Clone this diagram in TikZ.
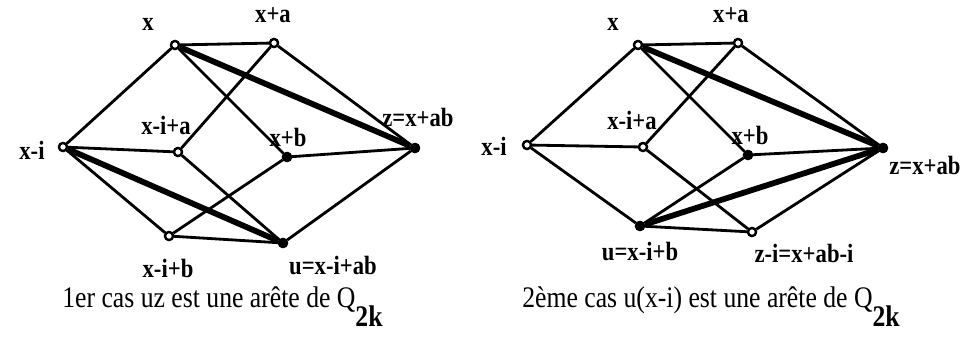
\documentclass[tikz,border=0pt]{standalone}
\usepackage{fontspec}
\setmainfont{Liberation Serif}
\newfontfamily\narrowserif[FakeStretch=0.86]{Liberation Serif}
\usetikzlibrary{positioning}

\begin{document}
\begin{tikzpicture}[
    x=0.02cm, y=-0.02cm,
    vtx/.style={circle, draw=black, line width=1.3pt, fill=white, minimum size=0.16cm, inner sep=0pt},
    vfull/.style={vtx, fill=black},
    lbl/.style={inner sep=0pt, font=\narrowserif\fontsize{15}{17}\selectfont\bfseries},
    captxt/.style={inner sep=0pt, anchor=base west, font=\narrowserif\fontsize{17}{19}\selectfont},
    link/.style={line width=1.6pt, black},
    heavy/.style={line width=3.3pt, black}
]
\useasboundingbox (0,0) rectangle (970,359);
% premier cas
\node[vtx] (ax) at (175,45) {};
\node[vtx] (axa) at (274,43) {};
\node[vtx] (axi) at (63,147) {};
\node[vtx] (axia) at (178,152) {};
\node[vfull] (axb) at (287,157) {};
\node[vfull] (az) at (415,148) {};
\node[vtx] (axib) at (169,236) {};
\node[vfull] (au) at (283,243) {};
\draw[link] (ax) -- (axa);
\draw[link] (ax) -- (axi);
\draw[link] (ax) -- (axb);
\draw[link] (axa) -- (axia);
\draw[link] (axa) -- (az);
\draw[link] (axi) -- (axia);
\draw[link] (axi) -- (axib);
\draw[link] (axia) -- (au);
\draw[link] (axb) -- (az);
\draw[link] (axb) -- (axib);
\draw[link] (axib) -- (au);
\draw[link] (au) -- (az);
\draw[heavy] (ax) -- (az);
\draw[heavy] (axi) -- (au);
\foreach \n in {ax,axa,axi,axia,axib}{\node[vtx] at (\n) {};}
\foreach \n in {axb,az,au}{\node[vfull] at (\n) {};}
\node[lbl] (lax) at (148,24) {x};
\node[lbl] (laxa) at (273,15) {x+a};
\node[lbl] (laxi) at (32,150) {x-i};
\node[lbl] (laxia) at (166,125) {x-i+a};
\node[lbl] (laxb) at (288,137) {x+b};
\node[lbl] (laz) at (418,117) {z=x+ab};
\node[lbl] (laxib) at (168,268) {x-i+b};
\node[lbl] (lau) at (333,266) {u=x-i+ab};
\node[captxt] (capa) at (62,307) {1er cas uz est une arête de Q\raisebox{-11pt}{\bfseries 2k}};
% deuxieme cas
\node[vtx] (bx) at (638,45) {};
\node[vtx] (bxa) at (738,43) {};
\node[vtx] (bxi) at (527,145) {};
\node[vtx] (bxia) at (643,147) {};
\node[vfull] (bxb) at (748,155) {};
\node[vfull] (bz) at (883,148) {};
\node[vfull] (bu) at (640,226) {};
\node[vtx] (bzi) at (752,232) {};
\draw[link] (bx) -- (bxa);
\draw[link] (bx) -- (bxi);
\draw[link] (bx) -- (bxb);
\draw[link] (bxa) -- (bxia);
\draw[link] (bxa) -- (bz);
\draw[link] (bxi) -- (bxia);
\draw[link] (bxi) -- (bu);
\draw[link] (bxia) -- (bzi);
\draw[link] (bxb) -- (bz);
\draw[link] (bxb) -- (bu);
\draw[link] (bu) -- (bzi);
\draw[link] (bzi) -- (bz);
\draw[heavy] (bx) -- (bz);
\draw[heavy] (bu) -- (bz);
\foreach \n in {bx,bxa,bxi,bxia,bzi}{\node[vtx] at (\n) {};}
\foreach \n in {bxb,bz,bu}{\node[vfull] at (\n) {};}
\node[lbl] (lbx) at (613,24) {x};
\node[lbl] (lbxa) at (731,15) {x+a};
\node[lbl] (lbxi) at (494,146) {x-i};
\node[lbl] (lbxia) at (632,120) {x-i+a};
\node[lbl] (lbxb) at (750,135) {x+b};
\node[lbl] (lbz) at (925,165) {z=x+ab};
\node[lbl] (lbu) at (640,252) {u=x-i+b};
\node[lbl] (lbzi) at (804,253) {z-i=x+ab-i};
\node[captxt] (capb) at (522,307) {2ème cas u(x-i) est une arête de Q\raisebox{-11pt}{\bfseries 2k}};
\end{tikzpicture}
\end{document}
